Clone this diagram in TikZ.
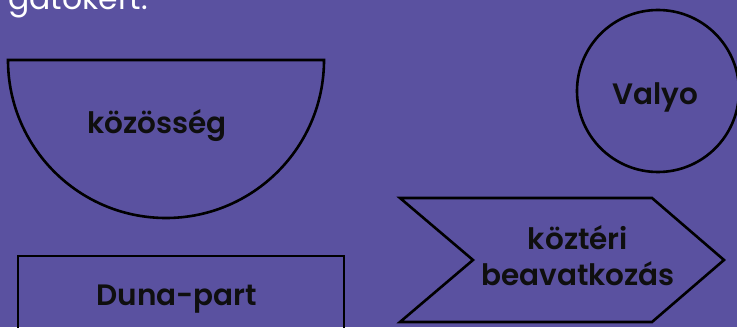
\documentclass[tikz,border=0pt]{standalone}
\usepackage{fontspec}
\setmainfont{Poppins}
\newfontfamily\semib{Poppins SemiBold}
\definecolor{bgpurple}{RGB}{90,81,160}
\definecolor{ink}{RGB}{15,15,15}
\tikzset{
  shapeline/.style={draw=black, line width=2.6pt},
  lbl/.style={font=\semib\fontsize{29.5}{36}\selectfont, text=ink, align=center, inner sep=0pt},
}
\begin{document}
\begin{tikzpicture}[x=1pt,y=1pt]
\fill[bgpurple] (0,0) rectangle (737,327);
\useasboundingbox (0,0) rectangle (737,327);
\node[anchor=base west, inner sep=0pt, text=white, font=\fontsize{31.5}{36}\selectfont] (top) at (8,317) {gatokért.};
% half circle
\draw[shapeline] (8,267) arc[start angle=180, end angle=360, radius=158] -- cycle;
\node[lbl, anchor=base] (koz) at (157,193) {közösség};
% circle
\node[shapeline, circle, minimum size=162pt, inner sep=0pt] (valyoc) at (658,236) {};
\node[lbl, anchor=base] (valyo) at (655,222) {Valyo};
% chevron
\draw[shapeline] (400,129) -- (652,129) -- (724,67) -- (652,5) -- (400,5) -- (473,67) -- cycle;
\node[lbl] (kb) at (578,71) {köztéri\\beavatkozás};
% rectangle
\draw[shapeline] (18,-10) -- (18,71) -- (344,71) -- (344,-10);
\node[lbl, anchor=base] (duna) at (177,22) {Duna-part};
\end{tikzpicture}
\end{document}
